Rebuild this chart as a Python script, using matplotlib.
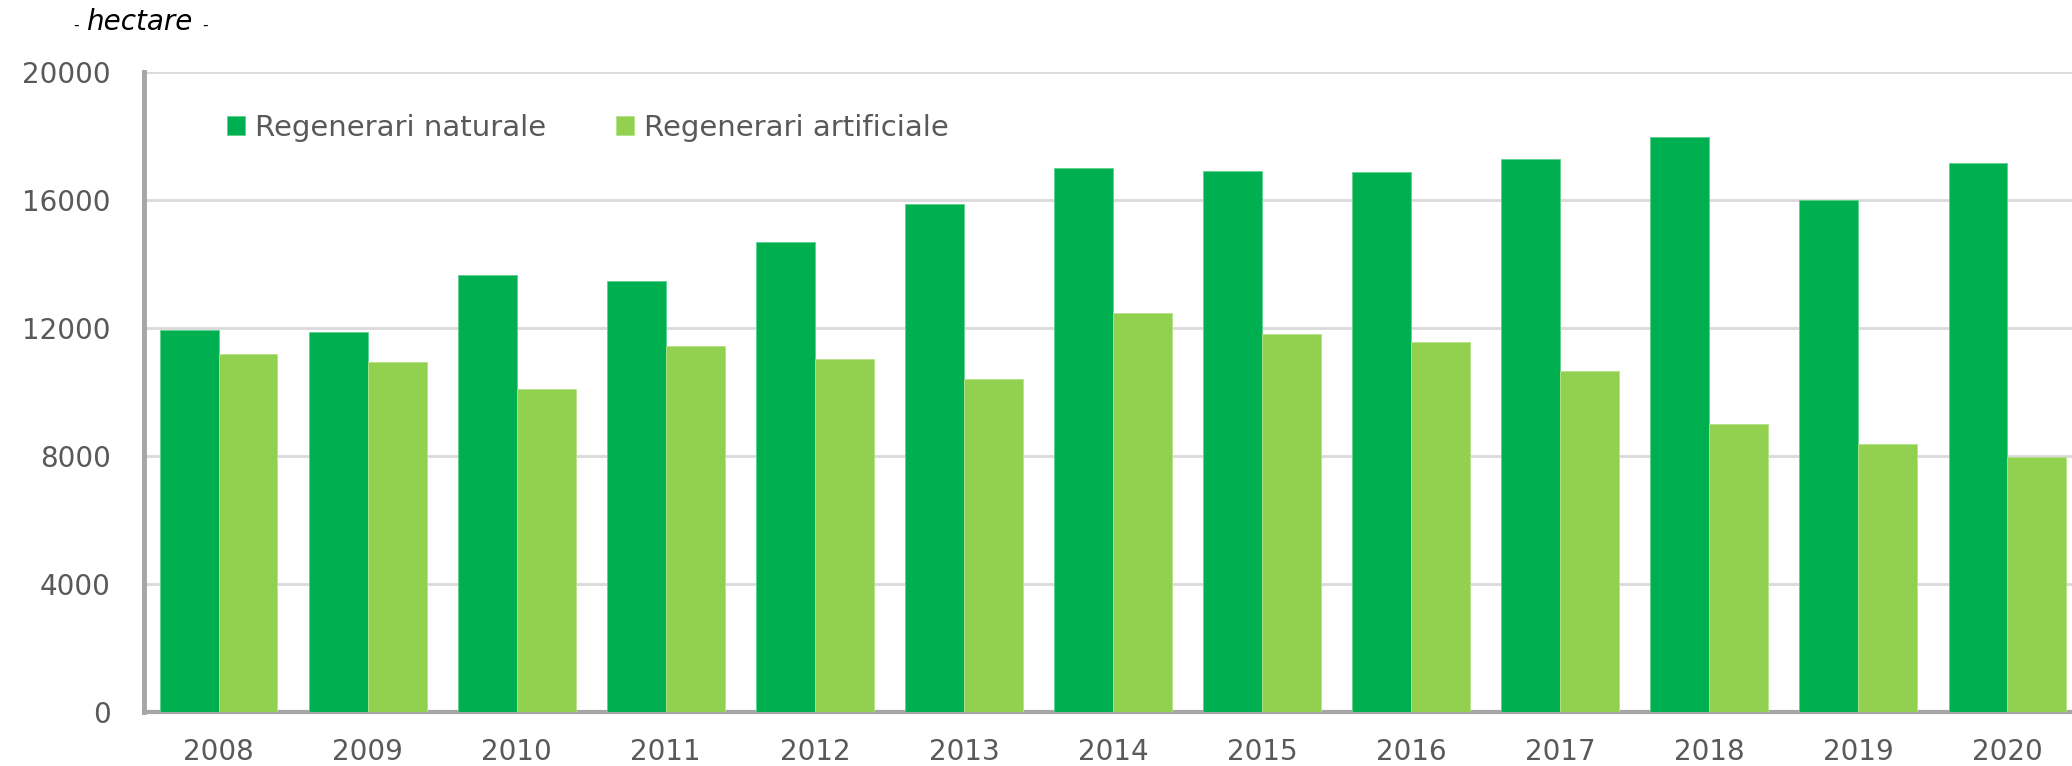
#!/usr/bin/env python3
"""Suprafete regenerate (naturale vs artificiale), 2008-2020."""

import matplotlib.pyplot as plt
import numpy as np

plt.rcParams["font.family"] = ["DejaVu Sans"]

years = ["2008", "2009", "2010", "2011", "2012", "2013", "2014",
         "2015", "2016", "2017", "2018", "2019", "2020"]
naturale = [11950, 11870, 13650, 13480, 14680, 15870, 16990,
            16900, 16860, 17280, 17980, 16000, 17150]
artificiale = [11200, 10950, 10080, 11450, 11030, 10410, 12480,
               11820, 11570, 10660, 9010, 8390, 7980]
yticks = [0, 4000, 8000, 12000, 16000, 20000]

GREEN_DARK = "#00B050"
GREEN_LIGHT = "#92D050"
GRAY_TXT = "#595959"

W, H = 2072, 766
fig = plt.figure(figsize=(W / 100, H / 100), dpi=100)
ax = fig.add_axes([144 / W, (H - 712) / H, (2082 - 144) / W, 640 / H])

x = np.arange(len(years))
bw = 0.395
ax.bar(x - bw / 2, naturale, bw, color=GREEN_DARK, label="Regenerari naturale",
       edgecolor="#5fd08f", linewidth=0.6, zorder=3)
ax.bar(x + bw / 2, artificiale, bw, color=GREEN_LIGHT, label="Regenerari artificiale",
       edgecolor="#b5e38a", linewidth=0.6, zorder=3)

ax.set_xlim(-0.5, len(years) - 0.5)
ax.set_ylim(0, 20000)
ax.set_yticks(yticks)
ax.set_yticklabels([str(v) for v in yticks])
ax.set_xticks(x)
ax.set_xticklabels(years)
ax.tick_params(axis="both", length=0, labelsize=20, colors=GRAY_TXT)
ax.tick_params(axis="y", pad=24)
ax.tick_params(axis="x", pad=19)

ax.grid(axis="y", color="#d9d9d9", linewidth=2, zorder=0)
for side in ("top", "right"):
    ax.spines[side].set_visible(False)
ax.spines["left"].set_color("#a6a6a6")
ax.spines["left"].set_linewidth(3.5)
ax.spines["bottom"].set_color("#a6a6a6")
ax.spines["bottom"].set_linewidth(3)

ax.legend(loc="center left", bbox_to_anchor=(0.0428, 0.9125), ncol=2, frameon=False,
          fontsize=21, labelcolor=GRAY_TXT, handlelength=0.62, handleheight=0.62,
          handletextpad=0.34, columnspacing=2.4, borderpad=0, borderaxespad=0)

fig.text(73 / W, 1 - 25 / H, "-", fontsize=11, style="italic", va="center", ha="left")
fig.text(86 / W, 1 - 22 / H, "hectare", fontsize=20, style="italic", va="center", ha="left")
fig.text(202 / W, 1 - 25 / H, "-", fontsize=11, style="italic", va="center", ha="left")

fig.savefig("out.png", dpi=100)
